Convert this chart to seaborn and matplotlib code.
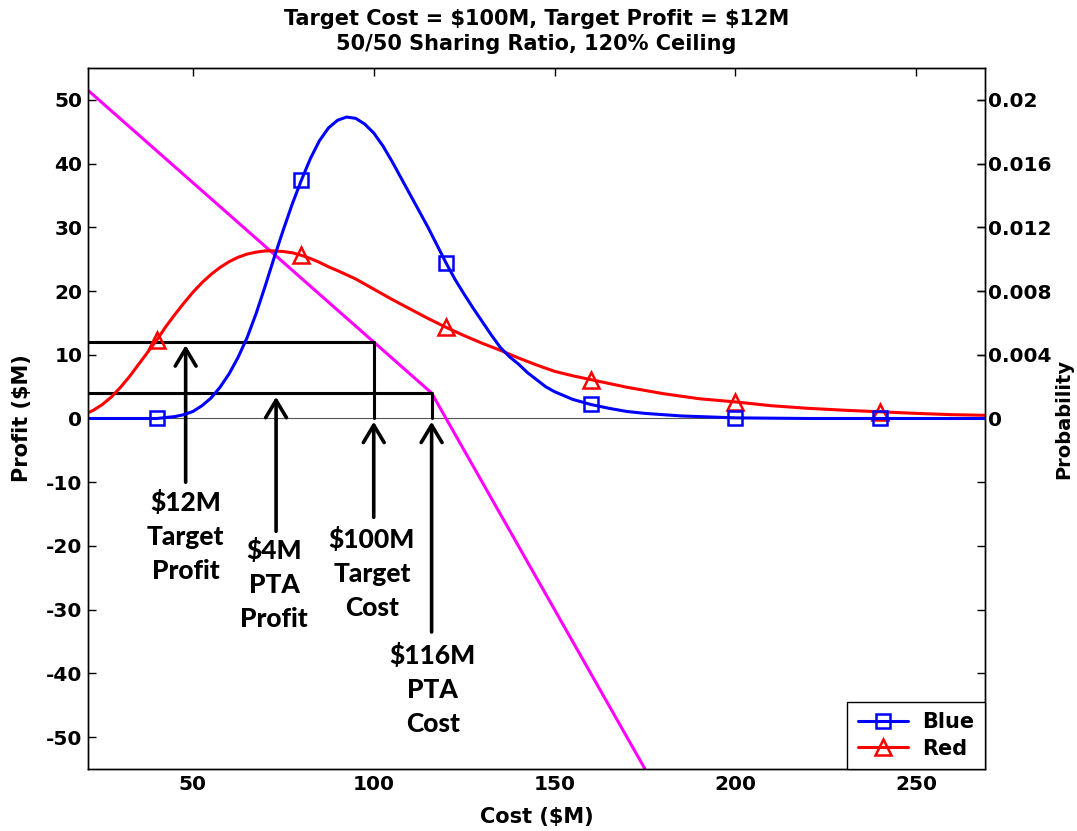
import matplotlib
matplotlib.use('Agg')
import matplotlib.pyplot as plt
import seaborn as sns

# profit curve breakpoints (cost $M, profit $M)
fee_cost = [21, 116, 175]
fee_profit = [51.5, 4, -55]

# contract parameters
target_cost = 100
target_profit = 12
pta_cost = 116
pta_profit = 4

# probability curves
cost_blue = [21, 30, 40, 45, 47.5, 50, 52.5, 55, 57.5, 60, 62.5, 65, 67.5, 70, 72.5,
             75, 77.5, 80, 82.5, 85, 87.5, 90, 92.5, 95, 97.5, 100, 102.5, 105, 107.5,
             110, 112.5, 115, 117.5, 120, 122.5, 125, 127.5, 130, 132.5, 135, 137.5,
             140, 142.5, 145, 147.5, 150, 155, 160, 165, 170, 175, 180, 185, 190,
             200, 220, 240, 269]
prob_blue = [0, 0, 0, 0.00012, 0.00024, 0.00044, 0.0008, 0.00128, 0.00196, 0.0028,
             0.00384, 0.00508, 0.0066, 0.00832, 0.01012, 0.01184, 0.01348, 0.01496,
             0.01632, 0.01744, 0.01824, 0.01872, 0.01892, 0.01884, 0.01848, 0.01792,
             0.01712, 0.01616, 0.01512, 0.01408, 0.01304, 0.012, 0.01088, 0.00976,
             0.00872, 0.0078, 0.00692, 0.00608, 0.00524, 0.00446, 0.00388, 0.00342,
             0.00288, 0.00244, 0.002, 0.00168, 0.0012, 0.00088, 0.00064, 0.00044,
             0.00032, 0.00024, 0.00016, 0.00012, 0.00004, 0, 0, 0]

cost_red = [21, 22.5, 25, 27.5, 30, 32.5, 35, 37.5, 40, 42.5, 45, 47.5, 50, 52.5, 55,
            57.5, 60, 62.5, 65, 67.5, 70, 72.5, 75, 77.5, 80, 82.5, 85, 87.5, 90, 95,
            100, 105, 110, 115, 120, 125, 130, 135, 140, 145, 150, 155, 160, 170, 180,
            190, 200, 210, 220, 230, 240, 250, 260, 269]
prob_red = [0.00036, 0.00052, 0.00088, 0.00136, 0.00196, 0.00264, 0.0034, 0.00416,
            0.00492, 0.00576, 0.00652, 0.00724, 0.00792, 0.00852, 0.00904, 0.00948,
            0.00984, 0.01012, 0.01032, 0.01044, 0.01052, 0.01052, 0.01048, 0.0104,
            0.01024, 0.01004, 0.0098, 0.00952, 0.00928, 0.00876, 0.00812, 0.00748,
            0.00688, 0.00628, 0.00572, 0.0052, 0.00472, 0.00428, 0.0038, 0.00336,
            0.00296, 0.00268, 0.00244, 0.00196, 0.00156, 0.00124, 0.00104, 0.0008,
            0.00064, 0.00052, 0.00042, 0.00032, 0.00024, 0.0002]

marker_costs = [40, 80, 120, 160, 200, 240]

profit_ticks = [-50, -40, -30, -20, -10, 0, 10, 20, 30, 40, 50]
prob_ticks = [0, 0.004, 0.008, 0.012, 0.016, 0.02]
prob_labels = ['0', '0.004', '0.008', '0.012', '0.016', '0.02']
cost_ticks = [50, 100, 150, 200, 250]

sns.set_style('white')
plt.rcParams['font.family'] = ['DejaVu Sans']
plt.rcParams['font.weight'] = 'bold'
plt.rcParams['axes.labelweight'] = 'bold'
plt.rcParams['axes.titleweight'] = 'bold'
plt.rcParams['axes.unicode_minus'] = False
for k in ['text.color', 'axes.labelcolor', 'xtick.color', 'ytick.color']:
    plt.rcParams[k] = 'black'

fig = plt.figure(figsize=(10.77, 8.31), dpi=100)
ax = fig.add_axes([0.0817, 0.0746, 0.8329, 0.8436])
ax2 = ax.twinx()

x0, x1 = 21, 269

# left axis: profit
ax.axhline(0, color='#555555', lw=0.8, zorder=1)
sns.lineplot(x=fee_cost, y=fee_profit, ax=ax, color='#ff00ff', lw=2.2,
             estimator=None, sort=False)
ax.plot([x0, target_cost, target_cost], [target_profit, target_profit, 0], color='k', lw=2.2)
ax.plot([x0, pta_cost, pta_cost], [pta_profit, pta_profit, 0], color='k', lw=2.2)

arrows = [(48, -10, 11.5), (73, -17.7, 3.4), (100, -15.5, -0.5), (116, -33.5, -0.5)]
for xa, y_tail, y_tip in arrows:
    ax.annotate('', xy=(xa, y_tip), xytext=(xa, y_tail),
                arrowprops=dict(arrowstyle='->,head_length=0.5,head_width=0.3',
                                lw=2.6, color='k', shrinkA=0, shrinkB=0,
                                mutation_scale=25))

notes = [(48, -11.2, '\\$12M\nTarget\nProfit'),
         (72.5, -18.8, '\\$4M\nPTA\nProfit'),
         (99.5, -17, '\\$100M\nTarget\nCost'),
         (116.3, -35.3, '\\$116M\nPTA\nCost')]
for xn, yn, txt in notes:
    ax.text(xn, yn, txt, ha='center', va='top', fontsize=19, fontweight='black',
            family=['Lato', 'DejaVu Sans'], linespacing=1.5, color='black')

ax.set_xlim(x0, x1)
ax.set_ylim(-55, 55)
ax.set_xticks(cost_ticks)
ax.set_yticks(profit_ticks)
ax.set_xlabel('Cost (\\$M)', fontsize=15, labelpad=10)
ax.set_ylabel('Profit (\\$M)', fontsize=15, labelpad=10)
ax.tick_params(direction='in', top=True, right=True, length=6, width=1,
               labelsize=14.5, pad=4)
ax.set_title('Target Cost = \\$100M, Target Profit = \\$12M\n50/50 Sharing Ratio, 120% Ceiling',
             fontsize=15, pad=13, linespacing=1.3)

# right axis: probability
idx_blue = [cost_blue.index(c) for c in marker_costs]
idx_red = [cost_red.index(c) for c in marker_costs]
sns.lineplot(x=cost_red, y=prob_red, ax=ax2, color='#ff0000', lw=2.2,
             estimator=None, marker='^', markevery=idx_red, ms=11,
             mfc='none', mec='#ff0000', mew=1.8)
sns.lineplot(x=cost_blue, y=prob_blue, ax=ax2, color='#0000ff', lw=2.2,
             estimator=None, marker='s', markevery=idx_blue, ms=9.5,
             mfc='none', mec='#0000ff', mew=1.8)
ax2.set_ylim(-0.022, 0.022)
ax2.set_yticks(prob_ticks)
ax2.set_yticklabels(prob_labels)
ax2.set_ylabel('Probability', fontsize=14, labelpad=2)
ax2.tick_params(direction='in', right=True, length=6, width=1, labelsize=14.5, pad=2)

for a in (ax, ax2):
    for s in a.spines.values():
        s.set_color('k')
        s.set_linewidth(1.0)

lines = ax2.get_lines()
leg = ax2.legend([lines[1], lines[0]], ['Blue', 'Red'], loc='lower right',
                 borderaxespad=0, fancybox=False, framealpha=1, edgecolor='k',
                 prop={'size': 15, 'weight': 'bold'}, handlelength=2.4,
                 labelspacing=0.3, borderpad=0.5, handletextpad=0.7)
leg.get_frame().set_linewidth(1.0)

fig.savefig('out.png', dpi=100)
